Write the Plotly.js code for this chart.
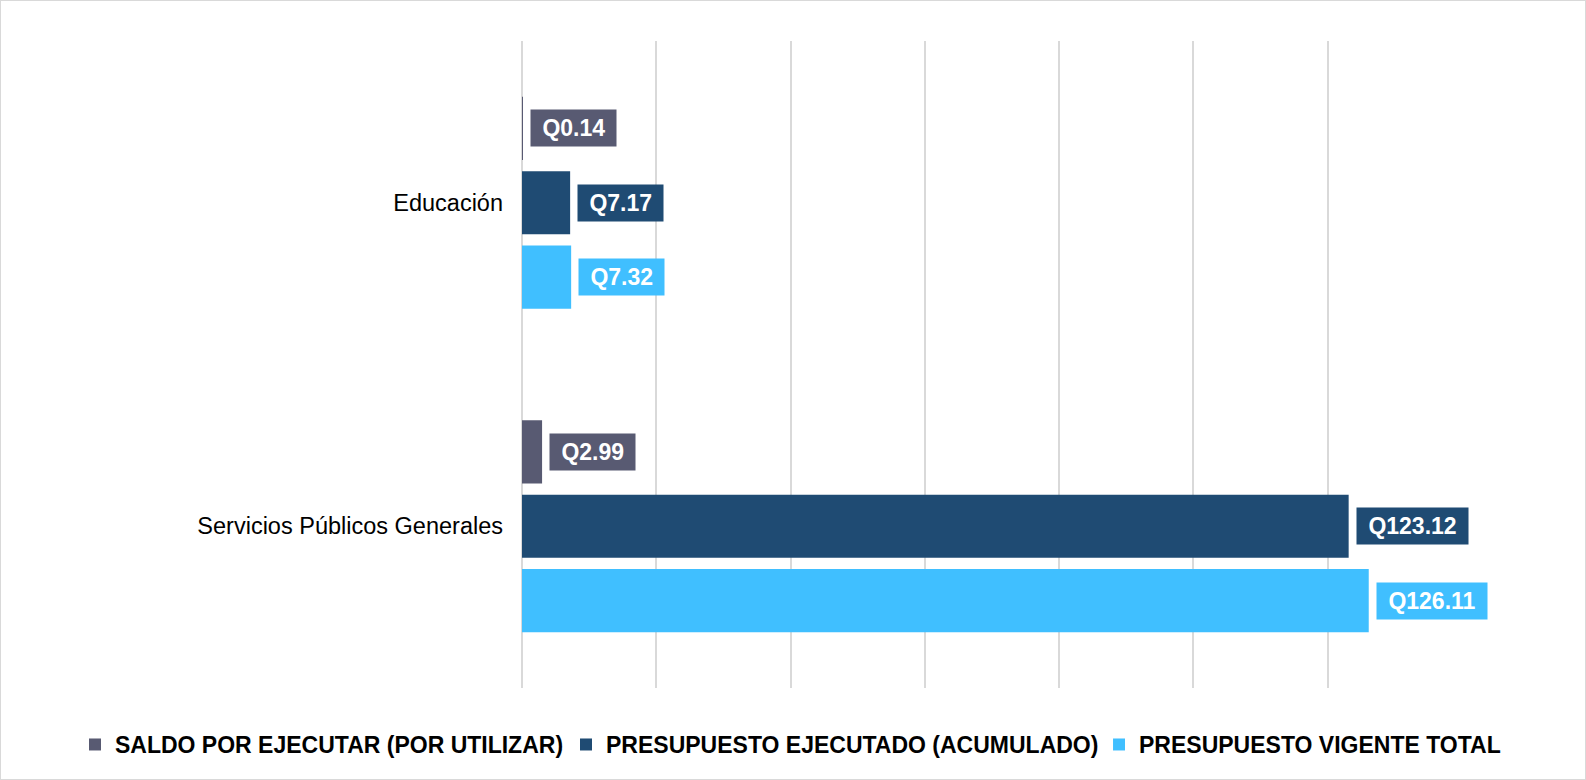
<!DOCTYPE html>
<html>
<head>
<meta charset="utf-8">
<script src="https://cdn.plot.ly/plotly-3.0.1.min.js"></script>
<style>
  html, body { margin: 0; padding: 0; background: #fff; }
  #wrap { width: 1586px; height: 780px; box-sizing: border-box; border: 1px solid #d9d9d9; background: #fff; }
  #chart { width: 1584px; height: 778px; }
</style>
</head>
<body>
<div id="wrap"><div id="chart"></div></div>
<script>
// Data
const categories = ['Servicios Públicos Generales', 'Educación'];
const saldo = [2.99, 0.14];
const ejecutado = [123.12, 7.17];
const vigente = [126.11, 7.32];
const seriesNames = ['SALDO POR EJECUTAR (POR UTILIZAR)', 'PRESUPUESTO EJECUTADO (ACUMULADO)', 'PRESUPUESTO VIGENTE TOTAL'];
const xTicks = [0, 20, 40, 60, 80, 100, 120, 140];

const colors = { saldo: '#585A72', ejecutado: '#1F4B73', vigente: '#40BFFF' };
const bargap = 0.31;
const bargroupgap = 0.15;
const fontFam = 'Liberation Sans, Arial, sans-serif';

// Traces: bottom-to-top in each group is Vigente, Ejecutado, Saldo
const series = [
  { name: seriesNames[2], values: vigente, color: colors.vigente, legend: 'legend3' },
  { name: seriesNames[1], values: ejecutado, color: colors.ejecutado, legend: 'legend2' },
  { name: seriesNames[0], values: saldo, color: colors.saldo, legend: 'legend' }
];

const traces = series.map(s => ({
  type: 'bar',
  orientation: 'h',
  name: s.name,
  y: categories,
  x: s.values,
  marker: { color: s.color },
  legend: s.legend,
  hoverinfo: 'x+y+name'
}));

// Data labels as boxed annotations next to each bar
const nS = series.length;
const slot = (1 - bargap) / nS;
const annotations = [];
series.forEach((s, k) => {
  s.values.forEach((v, i) => {
    annotations.push({
      xref: 'x', yref: 'y',
      x: v,
      y: i + (k - (nS - 1) / 2) * slot,
      xanchor: 'left', yanchor: 'middle',
      xshift: 7,
      showarrow: false,
      text: '\u00A0Q' + v.toFixed(2) + '\u00A0',
      font: { family: fontFam, size: 23, color: '#ffffff', weight: 'bold' },
      bgcolor: s.color,
      borderpad: 5
    });
  });
});

function legendAt(x) {
  return {
    orientation: 'h',
    xref: 'container', yref: 'container',
    x: x, y: 0.0443,
    xanchor: 'left', yanchor: 'middle',
    font: { family: fontFam, size: 23, color: '#000000', weight: 'bold' },
    bgcolor: 'rgba(0,0,0,0)',
    itemclick: false,
    itemdoubleclick: false
  };
}

const layout = {
  width: 1584,
  height: 778,
  margin: { l: 521, r: 123, t: 40, b: 91 },
  paper_bgcolor: '#ffffff',
  plot_bgcolor: '#ffffff',
  barmode: 'group',
  bargap: bargap,
  bargroupgap: bargroupgap,
  font: { family: fontFam, color: '#000000' },
  xaxis: {
    range: [0, 140],
    tickvals: xTicks,
    showticklabels: false,
    showgrid: true,
    gridcolor: '#D9D9D9',
    gridwidth: 2,
    zeroline: true,
    zerolinecolor: '#D9D9D9',
    zerolinewidth: 2,
    showline: false,
    fixedrange: true
  },
  yaxis: {
    type: 'category',
    range: [-0.5, 1.5],
    showgrid: false,
    zeroline: false,
    showline: false,
    ticks: '',
    ticklabelstandoff: 18,
    tickfont: { family: fontFam, size: 23.5, color: '#000000' },
    fixedrange: true
  },
  legend: legendAt(0.0467),
  legend2: legendAt(0.3567),
  legend3: legendAt(0.6932),
  annotations: annotations,
  showlegend: true
};

Plotly.newPlot('chart', traces, layout, { displayModeBar: false });
</script>
</body>
</html>
